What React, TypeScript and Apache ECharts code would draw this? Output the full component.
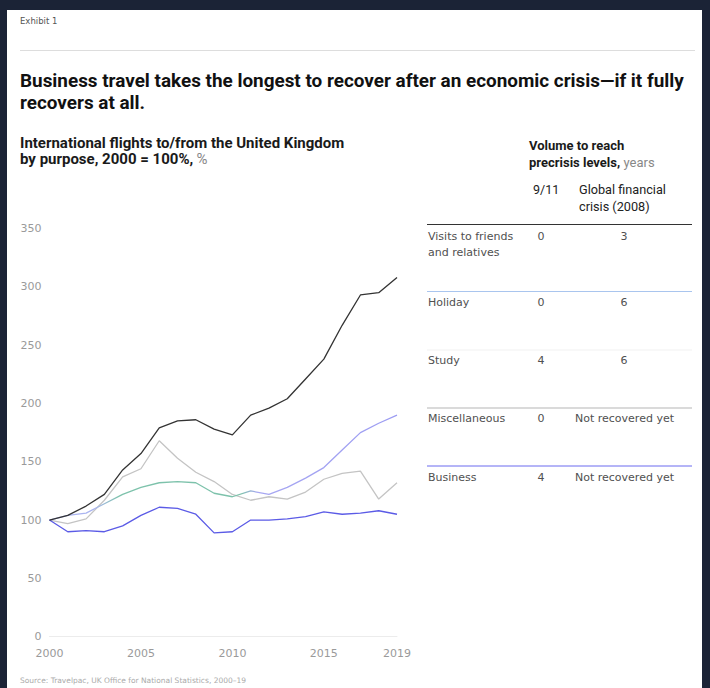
import React, { useEffect, useRef } from "react";
import * as echarts from "echarts";

const years = ["2000","2001","2002","2003","2004","2005","2006","2007","2008","2009","2010","2011","2012","2013","2014","2015","2016","2017","2018","2019"];
const visitsFriends = [100,104,112,122,143,157,179,185,186,178,173,190,196,204,221,238,267,293,295,308];
const holiday = [100,104,106,114,122,128,132,133,132,123,120,125,122,128,136,145,160,175,183,190];
const miscellaneous = [100,97,101,117,137,144,168,153,141,133,122,117,120,118,124,135,140,142,118,132];
const business = [100,90,91,90,95,104,111,110,105,89,90,100,100,101,103,107,105,106,108,105];
const xTickLabels = ["2000","2005","2010","2015","2019"];

const rowLabels = ["Visits to friends\nand relatives","Holiday","Study","Miscellaneous","Business"];
const after911 = ["0","0","4","0","4"];
const afterGfc = ["3","6","6","Not recovered yet","Not recovered yet"];

const rowY = [236, 302.5, 360, 418.5, 477];
const sepY = [224.5, 291.5, 350, 408, 466];
const sepColors = ["#333333", "#a9c5ee", "#f1f1f1", "#b5b5b5", "#6b6bef"];

export default function App() {
  const ref = useRef<HTMLDivElement>(null);
  useEffect(() => {
    document.body.style.margin = "0";
    const chart = echarts.init(ref.current!, undefined, { renderer: "svg" });
    const tableFont = "11px 'DejaVu Sans'";
    const tableColor = "#505050";
    const graphic: any[] = [
      { type: "rect", z: -10, shape: { x: 7, y: 10, width: 695, height: 678 }, style: { fill: "#ffffff" } },
      { type: "text", x: 20, y: 21, style: { text: "Exhibit 1", font: "8.5px 'DejaVu Sans'", fill: "#555", textVerticalAlign: "middle", verticalAlign: "middle" } },
      { type: "line", shape: { x1: 20, y1: 50.5, x2: 695, y2: 50.5 }, style: { stroke: "#dddddd", lineWidth: 1 } },
      { type: "text", x: 20, y: 69, style: { text: "Business travel takes the longest to recover after an economic crisis\u2014if it fully\nrecovers at all.", font: "bold 18.9px Roboto", lineHeight: 22, fill: "#111" } },
      { type: "text", x: 20, y: 134.5, style: { text: "{b|International flights to/from the United Kingdom}\n{b|by purpose, 2000 = 100%,} {g|%}", rich: { b: { font: "bold 15px Roboto", fill: "#1a1a1a", lineHeight: 16.5 }, g: { font: "15px Roboto", fill: "#888", lineHeight: 16.5 } } } },
      { type: "text", x: 529, y: 136.5, style: { text: "{b|Volume to reach}\n{b|precrisis levels,} {g|years}", rich: { b: { font: "bold 13px Roboto", fill: "#1a1a1a", lineHeight: 17 }, g: { font: "13px Roboto", fill: "#888", lineHeight: 17 } } } },
      { type: "text", x: 533, y: 189, style: { text: "9/11", font: "12.5px Roboto", fill: "#222", textVerticalAlign: "middle", verticalAlign: "middle" } },
      { type: "text", x: 579, y: 180.5, style: { text: "Global financial\ncrisis (2008)", font: "12.7px Roboto", fill: "#222", lineHeight: 17 } },
      { type: "text", x: 20, y: 680, style: { text: "Source: Travelpac, UK Office for National Statistics, 2000\u201319", font: "7.5px 'DejaVu Sans'", fill: "#aaa", textVerticalAlign: "middle", verticalAlign: "middle" } },
    ];
    rowLabels.forEach((lab, i) => {
      graphic.push({ type: "line", shape: { x1: 427, y1: sepY[i], x2: 692, y2: sepY[i] }, style: { stroke: sepColors[i], lineWidth: 1 } });
      const multi = lab.includes("\n");
      graphic.push({ type: "text", x: 428, y: multi ? rowY[i] - 8 : rowY[i], style: { text: lab, font: tableFont, fill: tableColor, lineHeight: 16, textVerticalAlign: multi ? "top" : "middle", verticalAlign: multi ? "top" : "middle" } });
      graphic.push({ type: "text", x: 541, y: rowY[i], style: { text: after911[i], font: tableFont, fill: tableColor, textAlign: "center", align: "center", textVerticalAlign: "middle", verticalAlign: "middle" } });
      const g = afterGfc[i];
      const isNum = g.length < 3;
      graphic.push({ type: "text", x: isNum ? 624 : 575, y: rowY[i], style: { text: g, font: tableFont, fill: tableColor, textAlign: isNum ? "center" : "left", align: isNum ? "center" : "left", textVerticalAlign: "middle", verticalAlign: "middle" } });
    });

    const holidayGradient = {
      type: "linear", x: 0, y: 0, x2: 1, y2: 0,
      colorStops: [
        { offset: 0, color: "#aab4f0" },
        { offset: 0.13, color: "#aab4f0" },
        { offset: 0.2, color: "#7dc2ab" },
        { offset: 0.55, color: "#7dc2ab" },
        { offset: 0.6, color: "#a8a8f2" },
        { offset: 1, color: "#9c9cf2" },
      ],
    };

    const mk = (name: string, data: number[], color: any, z: number) => ({
      name, type: "line", data, symbol: "none", z,
      lineStyle: { width: 1.3, color }, itemStyle: { color: typeof color === "string" ? color : "#9c9cf2" },
    });

    chart.setOption({
      animation: false,
      backgroundColor: "#1b2336",
      grid: { left: 49.5, right: 313, top: 228.5, bottom: 51.3, containLabel: false },
      xAxis: {
        type: "category", data: years, boundaryGap: false,
        axisLine: { show: true, lineStyle: { color: "#ececec", width: 1 } },
        axisTick: { show: false },
        splitLine: { show: false },
        axisLabel: { interval: (_i: number, v: string) => xTickLabels.includes(v), color: "#9a9a9a", fontFamily: "DejaVu Sans", fontSize: 11, margin: 11 },
      },
      yAxis: {
        type: "value", min: 0, max: 350, interval: 50,
        axisLine: { show: false }, axisTick: { show: false }, splitLine: { show: false },
        axisLabel: { color: "#9a9a9a", fontFamily: "DejaVu Sans", fontSize: 11, margin: 8 },
      },
      series: [
        mk("Miscellaneous", miscellaneous, "#c4c4c4", 2),
        mk("Holiday", holiday, holidayGradient, 3),
        mk("Business", business, "#5b5be6", 4),
        mk("Visits to friends and relatives", visitsFriends, "#333333", 5),
      ],
      graphic,
    });
    return () => chart.dispose();
  }, []);
  return <div ref={ref} style={{ width: 710, height: 688 }} />;
}
